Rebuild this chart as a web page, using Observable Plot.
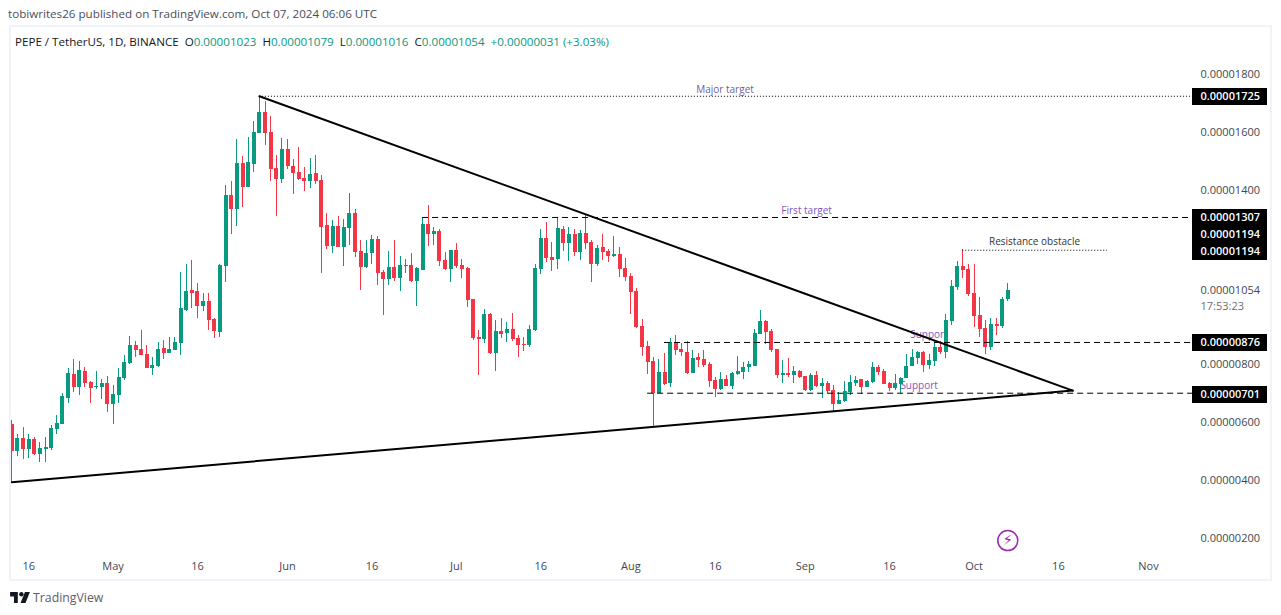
<!DOCTYPE html>
<html>
<head>
<meta charset="utf-8">
<script src="https://cdn.jsdelivr.net/npm/d3@7"></script>
<script src="https://cdn.jsdelivr.net/npm/@observablehq/plot@0.6"></script>
<style>
html,body{margin:0;padding:0;background:#fff;width:1281px;height:615px;overflow:hidden;font-family:"Open Sans",sans-serif;}
#wrap{position:relative;width:1281px;height:615px;}
#pub{position:absolute;left:8px;top:6px;font-size:11.65px;color:#4a4d57;white-space:nowrap;line-height:16px;}
#legend{position:absolute;left:15px;top:34px;font-size:11.6px;color:#131722;white-space:pre;line-height:16px;}
#legend b{font-weight:400;color:#089981;}
#chart{position:absolute;left:0;top:26px;}
#chart svg{display:block;}
#frame{position:absolute;left:9px;top:25px;width:1259px;height:552px;border:2px solid #f0f3fa;pointer-events:none;}
#foot{position:absolute;left:10px;top:589px;height:16px;display:flex;align-items:center;gap:3px;font-size:12.3px;color:#5d606b;}
</style>
</head>
<body>
<div id="wrap">
<div id="pub">tobiwrites26 published on TradingView.com, Oct 07, 2024 06:06 UTC</div>
<div id="legend">PEPE / TetherUS, 1D, BINANCE  O<b>0.00001023</b>  H<b>0.00001079</b>  L<b>0.00001016</b>  C<b>0.00001054</b>  <b>+0.00000031 (+3.03%)</b></div>
<div id="chart"></div>
<div id="frame"></div>
<div id="foot"><svg width="20" height="11" viewBox="0 0 36 20"><path d="M14 20H7V8H0V0h14v20z" fill="#131722"/><circle cx="20.5" cy="4" r="4" fill="#131722"/><path d="M28 20h-9L27 0h9l-8 20z" fill="#131722"/></svg><span>TradingView</span></div>
</div>
<script>
// Prices in units of 0.00000001 USDT, one daily candle per entry from 2024-04-13
const firstDay = "2024-04-13";
const opens = [
593,501,545,508,541,491,508,510,577,594,
684,765,722,776,738,721,721,734,663,694,
752,803,865,852,834,786,793,855,838,848,
872,986,1055,1052,1000,1017,955,910,1138,1383,
1334,1493,1410,1490,1597,1669,1600,1476,1438,1541,
1483,1462,1441,1431,1459,1434,1279,1207,1276,1203,
1269,1321,1190,1134,1183,1231,1117,1093,1134,1097,
1138,1141,1086,1124,1283,1248,1259,1159,1128,1193,
1141,1131,1024,893,886,973,838,914,907,921,
890,869,866,917,1128,1235,1169,1162,1266,1217,
1248,1186,1252,1221,1145,1203,1190,1172,1179,1131,
1104,1052,931,862,810,700,773,735,876,852,
841,769,824,817,800,745,714,748,724,766,
773,790,793,904,948,914,852,762,769,762,
776,759,710,762,724,735,710,662,672,704,
735,748,721,738,790,776,735,717,731,752,
793,821,841,797,810,859,841,948,1066,1138,
1128,1045,969,924,859,938,931,1023];
const highs = [
607,559,584,559,548,531,548,590,624,700,
786,817,810,790,741,776,748,759,728,786,
831,896,879,917,865,824,876,883,893,893,
1117,1145,1159,1079,1045,1045,959,1145,1417,1431,
1576,1517,1583,1638,1725,1707,1655,1521,1579,1576,
1507,1548,1479,1510,1521,1452,1321,1296,1310,1300,
1390,1334,1228,1228,1245,1241,1124,1190,1228,1172,
1162,1183,1134,1307,1348,1273,1266,1186,1193,1217,
1162,1135,1024,917,990,976,952,959,945,976,
900,893,935,1144,1266,1290,1221,1307,1276,1272,
1266,1262,1314,1228,1210,1248,1197,1241,1203,1166,
1114,1062,955,879,824,817,838,890,900,873,
879,848,838,848,807,755,773,762,773,828,
807,810,921,986,952,921,852,814,821,793,
779,759,769,776,752,741,728,704,741,762,
759,748,745,807,797,783,738,766,755,835,
852,845,845,835,879,879,972,1090,1155,1197,
1145,1145,1031,952,959,959,1031,1079];
const lows = [
394,484,474,477,487,463,463,505,560,594,
667,705,694,722,667,715,680,636,594,667,
746,800,824,831,786,762,790,817,838,848,
831,983,993,959,983,917,890,893,1083,1248,
1276,1341,1410,1462,1597,1555,1431,1310,1424,1472,
1386,1434,1397,1407,1421,1114,1197,1183,1203,1138,
1210,1169,1055,1131,1145,1072,969,1072,1086,1052,
1114,1083,1000,1124,1207,1210,1138,1124,1083,1131,
1097,997,883,762,872,835,776,890,876,879,
824,845,859,914,1110,1152,1121,1128,1190,1155,
1172,1159,1197,1083,1138,1159,1152,1169,1100,1086,
972,924,828,766,586,700,728,721,831,828,
766,769,790,790,721,686,710,724,714,762,
748,773,793,904,869,841,752,735,755,735,
752,707,707,721,683,700,635,662,669,693,
724,697,721,735,762,731,707,710,700,752,
793,800,772,783,793,835,821,935,1055,1097,
1034,928,893,835,848,900,924,1016];
const closes = [
501,545,508,541,491,510,514,579,596,690,
769,722,779,736,718,724,734,663,696,755,
807,865,848,831,786,797,852,838,852,876,
993,1052,1045,1000,1017,952,914,1141,1383,1334,
1493,1410,1497,1600,1669,1597,1472,1438,1541,1483,
1459,1438,1431,1455,1431,1272,1207,1276,1203,1272,
1321,1186,1134,1183,1231,1114,1093,1134,1097,1141,
1141,1086,1131,1283,1248,1259,1155,1128,1193,1138,
1128,1021,890,886,973,838,914,903,921,886,
866,866,921,1131,1235,1166,1159,1269,1217,1248,
1186,1252,1217,1145,1200,1186,1172,1179,1128,1100,
1048,928,859,807,700,773,731,876,848,841,
768,821,814,797,741,714,748,724,769,776,
790,800,907,948,910,848,762,769,762,776,
755,710,762,724,735,707,662,676,707,738,
745,721,741,790,772,731,717,735,752,793,
824,841,797,814,859,841,952,1069,1138,1124,
1041,966,921,859,938,931,1024,1054];

const yTicks = [1800, 1600, 1400, 1054, 800, 600, 400, 200];
const xTickDates = ["2024-04-16","2024-05-01","2024-05-16","2024-06-01","2024-06-16","2024-07-01","2024-07-16","2024-08-01","2024-08-16","2024-09-01","2024-09-16","2024-10-01","2024-10-16","2024-11-01"];

const levelValues = [1725, 1307, 1194, 1194, 876, 701];
const levelLabelPrices = [1725, 1308, 1250, 1190, 876, 697];

const D = s => new Date(s);
const GREEN = "#089981", RED = "#f23645", PURPLE = "#7e57c2";
const fmt = v => (v * 1e-8).toFixed(8);

const candles = opens.map((o, i) => ({
  date: d3.utcDay.offset(D(firstDay), i),
  open: o, high: highs[i], low: lows[i], close: closes[i]
}));
const candleColor = d => d.close >= d.open ? GREEN : RED;

const xStart = D("2024-04-12T18:27Z"), xEnd = D("2024-11-22T16:33Z");
const labelStart = D("2024-11-08T19:41Z"), labelEnd = D("2024-11-22T03:00Z");

const upperTrend = [{date: D("2024-05-27"), price: 1725}, {date: D("2024-10-18T13:00Z"), price: 710}];
const lowerTrend = [{date: D(firstDay), price: 394}, {date: D("2024-10-18T13:00Z"), price: 710}];

const hLevels = [
  {from: "2024-05-27", to: labelStart, price: 1725, dash: "1,2"},
  {from: "2024-06-25", to: labelStart, price: 1307, dash: "6,4"},
  {from: "2024-09-29", to: "2024-10-24T17:00Z", price: 1194, dash: "1,2"},
  {from: "2024-08-07", to: labelStart, price: 876, dash: "6,4"},
  {from: "2024-08-04", to: labelStart, price: 701, dash: "6,4"}
].map(d => ({...d, from: D(d.from), to: D(d.to)}));

const notes = [
  {date: "2024-08-17T18:00Z", price: 1748, text: "Major target", fill: "#6f5f9e"},
  {date: "2024-09-01T06:00Z", price: 1331, text: "First target", fill: PURPLE},
  {date: "2024-10-11T18:00Z", price: 1224, text: "Resistance obstacle", fill: "#333"},
  {date: "2024-09-23", price: 903, text: "Support", fill: PURPLE},
  {date: "2024-09-21T06:00Z", price: 728, text: "Support", fill: PURPLE}
].map(d => ({...d, date: D(d.date)}));

const labels = levelValues.map((v, i) => ({value: v, at: levelLabelPrices[i]}));
const font = "'Open Sans', sans-serif";

const plot = Plot.plot({
  width: 1281, height: 554,
  marginLeft: 0, marginRight: 89, marginTop: 0, marginBottom: 26,
  style: {background: "transparent", fontFamily: font},
  x: {type: "utc", domain: [xStart, xEnd], range: [10, 1270]},
  y: {domain: [200, 1800], range: [512, 48]},
  marks: [
    Plot.text(notes, {x: "date", y: "price", text: "text", fill: "fill", fontSize: 10}),
    Plot.ruleX(candles, {x: "date", y1: "low", y2: "high", stroke: candleColor, strokeWidth: 1, shapeRendering: "crispEdges"}),
    Plot.ruleX(candles, {x: "date", y1: "open", y2: "close", stroke: candleColor, strokeWidth: 4, shapeRendering: "crispEdges"}),
    ...hLevels.map(l => Plot.ruleY([l.price], {x1: l.from, x2: l.to, stroke: "#000", strokeWidth: 1, strokeDasharray: l.dash})),
    Plot.line(upperTrend, {x: "date", y: "price", stroke: "#000", strokeWidth: 2}),
    Plot.line(lowerTrend, {x: "date", y: "price", stroke: "#000", strokeWidth: 2}),
    Plot.dot([{date: D("2024-10-07"), price: 193}], {x: "date", y: "price", r: 10, stroke: "#9c27b0", strokeWidth: 1.5, fill: "#fff"}),
    Plot.text([{date: D("2024-10-07"), price: 193}], {x: "date", y: "price", text: () => "\u26A1\uFE0E", fill: "#9c27b0", fontSize: 15, fontFamily: "DejaVu Sans"}),
    Plot.axisX({ticks: xTickDates.map(D), tickSize: 0, tickPadding: 8, fontSize: 11, fill: "#434651", label: null,
      tickFormat: d => d.getUTCDate() === 16 ? "16" : d3.utcFormat("%b")(d)}),
    Plot.axisY({anchor: "right", ticks: yTicks, tickSize: 0, tickPadding: 8, fontSize: 11, fill: "#434651", label: null, tickFormat: fmt}),
    Plot.text(["17:53:23"], {x: labelStart, y: 1000, text: d => d, textAnchor: "start", dx: 8, fontSize: 11, fill: "#6a6d78"}),
    Plot.ruleY(labels, {y: "at", x1: labelStart, x2: labelEnd, stroke: "#000", strokeWidth: 17, shapeRendering: "crispEdges"}),
    Plot.text(labels, {x: labelStart, y: "at", text: d => fmt(d.value), textAnchor: "start", dx: 8, fill: "#fff", fontSize: 11, fontWeight: 600})
  ]
});
document.getElementById("chart").appendChild(plot);
</script>
</body>
</html>
